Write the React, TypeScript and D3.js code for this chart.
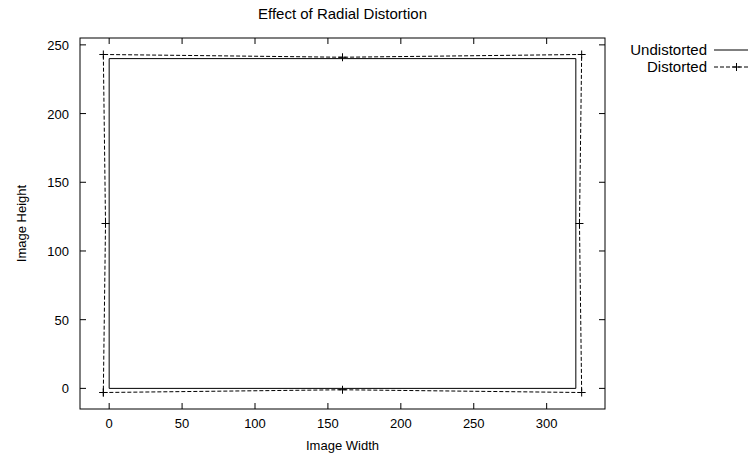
import React from "react";
import * as d3 from "d3";

const W = 748;
const H = 457;
const MARGIN = { top: 38, right: 143, bottom: 48, left: 80 };

// undistorted image border (pixel corners)
const undistortedX = [0, 320, 320, 0, 0];
const undistortedY = [0, 0, 240, 240, 0];

// distorted border, sampled at corners and edge midpoints
const distortedX = [-4, 160, 324, 322.5, 324, 160, -4, -2.5, -4];
const distortedY = [-3, -1, -3, 120, 243, 241, 243, 120, -3];

const xTicks = [0, 50, 100, 150, 200, 250, 300];
const yTicks = [0, 50, 100, 150, 200, 250];

const FONT = "'Liberation Sans', Arial, Helvetica, sans-serif";

const Cross = ({ x, y }: { x: number; y: number }) => (
  <g stroke="#000" strokeWidth={1}>
    <line x1={x - 4} x2={x + 4} y1={y} y2={y} />
    <line x1={x} x2={x} y1={y - 4} y2={y + 4} />
  </g>
);

const App = () => {
  const boundsWidth = W - MARGIN.left - MARGIN.right;
  const boundsHeight = H - MARGIN.top - MARGIN.bottom;

  const xScale = d3.scaleLinear().domain([-20, 340]).range([0, boundsWidth]);
  const yScale = d3.scaleLinear().domain([-15, 255]).range([boundsHeight, 0]);

  const undistorted = undistortedX.map((x, i) => [x, undistortedY[i]] as [number, number]);
  const distorted = distortedX.map((x, i) => [x, distortedY[i]] as [number, number]);
  const path = d3
    .line<[number, number]>()
    .x((d) => xScale(d[0]))
    .y((d) => yScale(d[1]));

  const tick = 6;

  return (
    <svg
      width={W}
      height={H}
      style={{ position: "absolute", left: 0, top: 0, background: "#fff" }}
      fontFamily={FONT}
      fontSize={12}
    >
      <text x={MARGIN.left + boundsWidth / 2} y={19} textAnchor="middle" fontSize={15}>
        Effect of Radial Distortion
      </text>

      <g transform={`translate(${MARGIN.left},${MARGIN.top})`}>
        {/* ticks on all four sides, pointing inward */}
        {xTicks.map((t) => (
          <g key={"x" + t}>
            <line x1={xScale(t)} x2={xScale(t)} y1={boundsHeight} y2={boundsHeight - tick} stroke="#000" />
            <line x1={xScale(t)} x2={xScale(t)} y1={0} y2={tick} stroke="#000" />
            <text x={xScale(t)} y={boundsHeight + 19} textAnchor="middle" fontSize={13}>
              {t}
            </text>
          </g>
        ))}
        {yTicks.map((t) => (
          <g key={"y" + t}>
            <line x1={0} x2={tick} y1={yScale(t)} y2={yScale(t)} stroke="#000" />
            <line x1={boundsWidth} x2={boundsWidth - tick} y1={yScale(t)} y2={yScale(t)} stroke="#000" />
            <text x={-11} y={yScale(t) + 5} textAnchor="end" fontSize={13}>
              {t}
            </text>
          </g>
        ))}

        <path d={path(undistorted) || ""} fill="none" stroke="#000" strokeWidth={1} />
        <path d={path(distorted) || ""} fill="none" stroke="#000" strokeWidth={1} strokeDasharray="4,2" />
        {distorted.map((d, i) => (
          <Cross key={i} x={xScale(d[0])} y={yScale(d[1])} />
        ))}

        <rect x={0} y={0} width={boundsWidth} height={boundsHeight} fill="none" stroke="#000" strokeWidth={1} />

        <text x={boundsWidth / 2} y={boundsHeight + 41} textAnchor="middle" fontSize={13}>
          Image Width
        </text>
        <text
          transform={`translate(${-54},${boundsHeight / 2}) rotate(-90)`}
          textAnchor="middle"
          fontSize={13}
        >
          Image Height
        </text>
      </g>

      {/* legend */}
      <g fontSize={15}>
        <text x={707} y={55} textAnchor="end">Undistorted</text>
        <line x1={714} x2={759} y1={50} y2={50} stroke="#000" />
        <text x={707} y={72} textAnchor="end">Distorted</text>
        <line x1={714} x2={759} y1={67} y2={67} stroke="#000" strokeDasharray="4,2" />
        <Cross x={736.5} y={67} />
      </g>
    </svg>
  );
};

export default App;
